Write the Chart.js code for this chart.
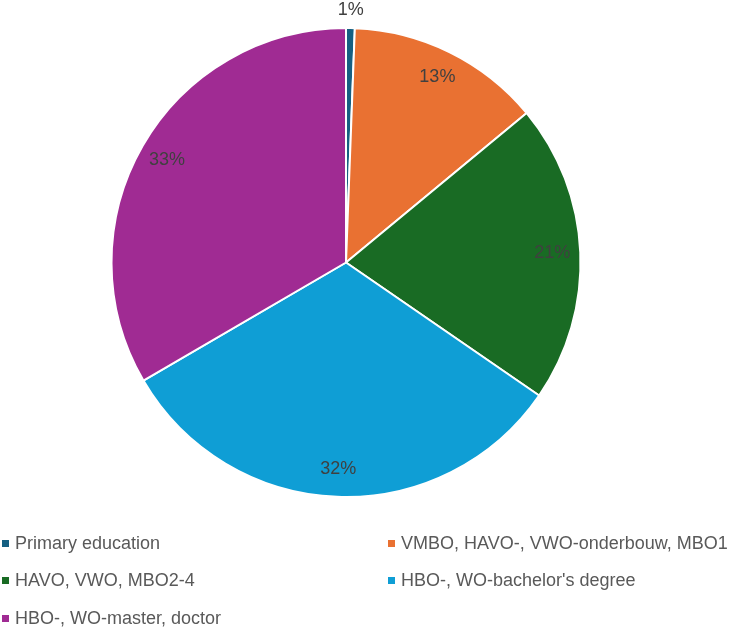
<!DOCTYPE html>
<html>
<head>
<meta charset="utf-8">
<script src="https://cdn.jsdelivr.net/npm/chart.js@4/dist/chart.umd.min.js"></script>
<style>
  html, body { margin: 0; padding: 0; background: #fff; }
  #wrap { position: relative; width: 734px; height: 629px; }
  #eduChart { position: absolute; left: 0; top: 0; }
  .legend { position: absolute; left: 0; top: 0; width: 734px; height: 629px; pointer-events: none;
    font-family: "Liberation Sans", Arial, sans-serif;
    font-size: 18px; color: #595959; }
  .legend .item { position: absolute; white-space: nowrap; line-height: 20px; }
  .legend .box { display: inline-block; width: 7px; height: 7px; margin-right: 6px; vertical-align: 2px; }
</style>
</head>
<body>
<div id="wrap">
  <canvas id="eduChart" width="734" height="629"></canvas>
  <div class="legend" id="legend"></div>
</div>
<script>
const categories = [
  "Primary education",
  "VMBO, HAVO-, VWO-onderbouw, MBO1",
  "HAVO, VWO, MBO2-4",
  "HBO-, WO-bachelor's degree",
  "HBO-, WO-master, doctor"
];
const shares = [0.6, 13.4, 20.6, 32.0, 33.4];
const colors = ["#156082", "#E97132", "#196B24", "#0F9ED5", "#A02B93"];

// legend: two columns, left aligned
const legendPos = [[2, 533], [388, 533], [2, 570], [388, 570], [2, 608]];
const legend = document.getElementById("legend");
categories.forEach((name, i) => {
  const el = document.createElement("div");
  el.className = "item";
  el.style.left = legendPos[i][0] + "px";
  el.style.top = legendPos[i][1] + "px";
  el.innerHTML = '<span class="box" style="background:' + colors[i] + '"></span>';
  el.appendChild(document.createTextNode(name));
  legend.appendChild(el);
});

// percent labels, inside the slice near the rim, outside for tiny slices
const pctLabels = {
  id: "pctLabels",
  afterDatasetsDraw(chart) {
    const ctx = chart.ctx;
    const meta = chart.getDatasetMeta(0);
    const data = chart.data.datasets[0].data;
    const total = data.reduce((a, b) => a + b, 0);
    ctx.save();
    ctx.font = '18px "Liberation Sans", Arial, sans-serif';
    ctx.fillStyle = "#404040";
    ctx.textAlign = "center";
    ctx.textBaseline = "middle";
    meta.data.forEach((arc, i) => {
      const p = arc.getProps(["x", "y", "startAngle", "endAngle", "outerRadius"], true);
      const mid = (p.startAngle + p.endAngle) / 2;
      const pct = data[i] / total * 100;
      const r = pct < 3 ? p.outerRadius + 18 : p.outerRadius * 0.88;
      ctx.fillText(Math.round(pct) + "%", p.x + Math.cos(mid) * r, p.y + Math.sin(mid) * r);
    });
    ctx.restore();
  }
};

new Chart(document.getElementById("eduChart"), {
  type: "pie",
  data: {
    labels: categories,
    datasets: [{
      data: shares,
      backgroundColor: colors,
      borderColor: "#ffffff",
      borderWidth: 2
    }]
  },
  options: {
    responsive: false,
    animation: false,
    layout: { padding: { top: 27, bottom: 131, left: 0, right: 42 } },
    plugins: {
      legend: { display: false },
      tooltip: { enabled: false }
    }
  },
  plugins: [pctLabels]
});
</script>
</body>
</html>
